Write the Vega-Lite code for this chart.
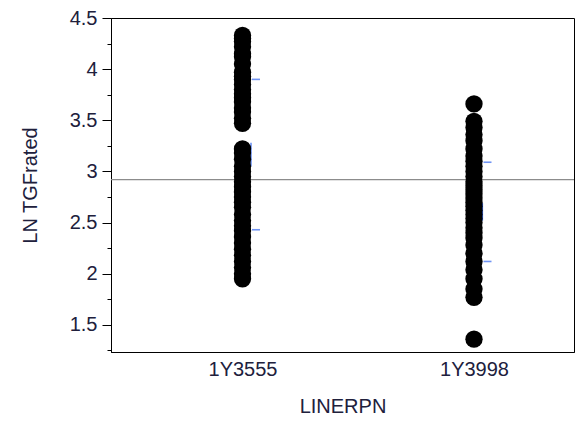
{
  "$schema": "https://vega.github.io/schema/vega-lite/v6.json",
  "width": 463,
  "height": 334,
  "autosize": {"type": "none"},
  "padding": {"left": 111, "top": 18, "right": 5, "bottom": 75},
  "background": "white",
  "config": {
    "view": {"stroke": "black", "strokeWidth": 1},
    "font": "Liberation Sans"
  },
  "datasets": {
    "points": [
      {"LINERPN": "1Y3555", "LN_TGFrated": 4.33},
      {"LINERPN": "1Y3555", "LN_TGFrated": 4.30},
      {"LINERPN": "1Y3555", "LN_TGFrated": 4.27},
      {"LINERPN": "1Y3555", "LN_TGFrated": 4.22},
      {"LINERPN": "1Y3555", "LN_TGFrated": 4.15},
      {"LINERPN": "1Y3555", "LN_TGFrated": 4.12},
      {"LINERPN": "1Y3555", "LN_TGFrated": 4.05},
      {"LINERPN": "1Y3555", "LN_TGFrated": 3.97},
      {"LINERPN": "1Y3555", "LN_TGFrated": 3.93},
      {"LINERPN": "1Y3555", "LN_TGFrated": 3.90},
      {"LINERPN": "1Y3555", "LN_TGFrated": 3.85},
      {"LINERPN": "1Y3555", "LN_TGFrated": 3.80},
      {"LINERPN": "1Y3555", "LN_TGFrated": 3.76},
      {"LINERPN": "1Y3555", "LN_TGFrated": 3.72},
      {"LINERPN": "1Y3555", "LN_TGFrated": 3.68},
      {"LINERPN": "1Y3555", "LN_TGFrated": 3.62},
      {"LINERPN": "1Y3555", "LN_TGFrated": 3.58},
      {"LINERPN": "1Y3555", "LN_TGFrated": 3.52},
      {"LINERPN": "1Y3555", "LN_TGFrated": 3.47},
      {"LINERPN": "1Y3555", "LN_TGFrated": 3.22},
      {"LINERPN": "1Y3555", "LN_TGFrated": 3.18},
      {"LINERPN": "1Y3555", "LN_TGFrated": 3.12},
      {"LINERPN": "1Y3555", "LN_TGFrated": 3.05},
      {"LINERPN": "1Y3555", "LN_TGFrated": 3.00},
      {"LINERPN": "1Y3555", "LN_TGFrated": 2.95},
      {"LINERPN": "1Y3555", "LN_TGFrated": 2.90},
      {"LINERPN": "1Y3555", "LN_TGFrated": 2.85},
      {"LINERPN": "1Y3555", "LN_TGFrated": 2.80},
      {"LINERPN": "1Y3555", "LN_TGFrated": 2.75},
      {"LINERPN": "1Y3555", "LN_TGFrated": 2.70},
      {"LINERPN": "1Y3555", "LN_TGFrated": 2.65},
      {"LINERPN": "1Y3555", "LN_TGFrated": 2.58},
      {"LINERPN": "1Y3555", "LN_TGFrated": 2.52},
      {"LINERPN": "1Y3555", "LN_TGFrated": 2.47},
      {"LINERPN": "1Y3555", "LN_TGFrated": 2.42},
      {"LINERPN": "1Y3555", "LN_TGFrated": 2.36},
      {"LINERPN": "1Y3555", "LN_TGFrated": 2.30},
      {"LINERPN": "1Y3555", "LN_TGFrated": 2.24},
      {"LINERPN": "1Y3555", "LN_TGFrated": 2.18},
      {"LINERPN": "1Y3555", "LN_TGFrated": 2.12},
      {"LINERPN": "1Y3555", "LN_TGFrated": 2.06},
      {"LINERPN": "1Y3555", "LN_TGFrated": 2.00},
      {"LINERPN": "1Y3555", "LN_TGFrated": 1.95},
      {"LINERPN": "1Y3998", "LN_TGFrated": 3.66},
      {"LINERPN": "1Y3998", "LN_TGFrated": 3.49},
      {"LINERPN": "1Y3998", "LN_TGFrated": 3.43},
      {"LINERPN": "1Y3998", "LN_TGFrated": 3.36},
      {"LINERPN": "1Y3998", "LN_TGFrated": 3.30},
      {"LINERPN": "1Y3998", "LN_TGFrated": 3.22},
      {"LINERPN": "1Y3998", "LN_TGFrated": 3.15},
      {"LINERPN": "1Y3998", "LN_TGFrated": 3.10},
      {"LINERPN": "1Y3998", "LN_TGFrated": 3.05},
      {"LINERPN": "1Y3998", "LN_TGFrated": 3.00},
      {"LINERPN": "1Y3998", "LN_TGFrated": 2.95},
      {"LINERPN": "1Y3998", "LN_TGFrated": 2.90},
      {"LINERPN": "1Y3998", "LN_TGFrated": 2.86},
      {"LINERPN": "1Y3998", "LN_TGFrated": 2.82},
      {"LINERPN": "1Y3998", "LN_TGFrated": 2.78},
      {"LINERPN": "1Y3998", "LN_TGFrated": 2.74},
      {"LINERPN": "1Y3998", "LN_TGFrated": 2.70},
      {"LINERPN": "1Y3998", "LN_TGFrated": 2.66},
      {"LINERPN": "1Y3998", "LN_TGFrated": 2.62},
      {"LINERPN": "1Y3998", "LN_TGFrated": 2.58},
      {"LINERPN": "1Y3998", "LN_TGFrated": 2.54},
      {"LINERPN": "1Y3998", "LN_TGFrated": 2.50},
      {"LINERPN": "1Y3998", "LN_TGFrated": 2.45},
      {"LINERPN": "1Y3998", "LN_TGFrated": 2.40},
      {"LINERPN": "1Y3998", "LN_TGFrated": 2.35},
      {"LINERPN": "1Y3998", "LN_TGFrated": 2.28},
      {"LINERPN": "1Y3998", "LN_TGFrated": 2.20},
      {"LINERPN": "1Y3998", "LN_TGFrated": 2.12},
      {"LINERPN": "1Y3998", "LN_TGFrated": 2.04},
      {"LINERPN": "1Y3998", "LN_TGFrated": 1.95},
      {"LINERPN": "1Y3998", "LN_TGFrated": 1.85},
      {"LINERPN": "1Y3998", "LN_TGFrated": 1.77},
      {"LINERPN": "1Y3998", "LN_TGFrated": 1.36}
    ],
    "summary": [
      {"LINERPN": "1Y3555", "mean": 3.165, "lo_sd": 2.43, "hi_sd": 3.90, "lo_se": 3.05, "hi_se": 3.28},
      {"LINERPN": "1Y3998", "mean": 2.605, "lo_sd": 2.12, "hi_sd": 3.09, "lo_se": 2.52, "hi_se": 2.69}
    ],
    "overall": [
      {"grand_mean": 2.92}
    ]
  },
  "encoding": {
    "x": {
      "field": "LINERPN",
      "type": "nominal",
      "scale": {"type": "point", "domain": ["1Y3555", "1Y3998"], "padding": 0.5, "align": 0.568},
      "axis": {
        "title": "LINERPN",
        "labelAngle": 0,
        "ticks": false,
        "domainColor": "black",
        "labelFontSize": 20,
        "labelColor": "#20203c",
        "labelPadding": 7,
        "titleFontSize": 20,
        "titleFontWeight": "normal",
        "titleColor": "#20203c",
        "titlePadding": 17
      }
    },
    "y": {
      "field": "LN_TGFrated",
      "type": "quantitative",
      "scale": {"domain": [1.235, 4.5], "nice": false, "zero": false},
      "axis": {
        "title": "LN TGFrated",
        "values": [1.25, 1.5, 1.75, 2, 2.25, 2.5, 2.75, 3, 3.25, 3.5, 3.75, 4, 4.25, 4.5],
        "labelExpr": "(datum.value % 0.5 == 0) ? format(datum.value, '') : ''",
        "tickSize": {"condition": {"test": "datum.value % 0.5 == 0", "value": 9}, "value": 4},
        "grid": false,
        "domainColor": "black",
        "tickColor": "black",
        "labelFontSize": 20,
        "labelColor": "#20203c",
        "labelPadding": 5,
        "titleFontSize": 20,
        "titleFontWeight": "normal",
        "titleColor": "#20203c",
        "titlePadding": 29
      }
    }
  },
  "layer": [
    {
      "data": {"name": "overall"},
      "mark": {"type": "rule", "color": "#8c8c8c", "strokeWidth": 1.2},
      "encoding": {
        "x": null,
        "y": {"field": "grand_mean", "type": "quantitative"}
      }
    },
    {
      "data": {"name": "summary"},
      "mark": {"type": "rule", "color": "#3b6ef0", "strokeWidth": 1.2, "xOffset": 8.5},
      "encoding": {
        "y": {"field": "lo_se", "type": "quantitative"},
        "y2": {"field": "hi_se"}
      }
    },
    {
      "data": {"name": "summary"},
      "mark": {"type": "tick", "color": "#3366ee", "size": 8, "thickness": 1.6, "xOffset": 13.5, "orient": "horizontal"},
      "encoding": {
        "y": {"field": "lo_sd", "type": "quantitative"}
      }
    },
    {
      "data": {"name": "summary"},
      "mark": {"type": "tick", "color": "#3366ee", "size": 8, "thickness": 1.6, "xOffset": 13.5, "orient": "horizontal"},
      "encoding": {
        "y": {"field": "hi_sd", "type": "quantitative"}
      }
    },
    {
      "data": {"name": "points"},
      "mark": {"type": "circle", "color": "black", "opacity": 1, "size": 300},
      "encoding": {}
    }
  ]
}
